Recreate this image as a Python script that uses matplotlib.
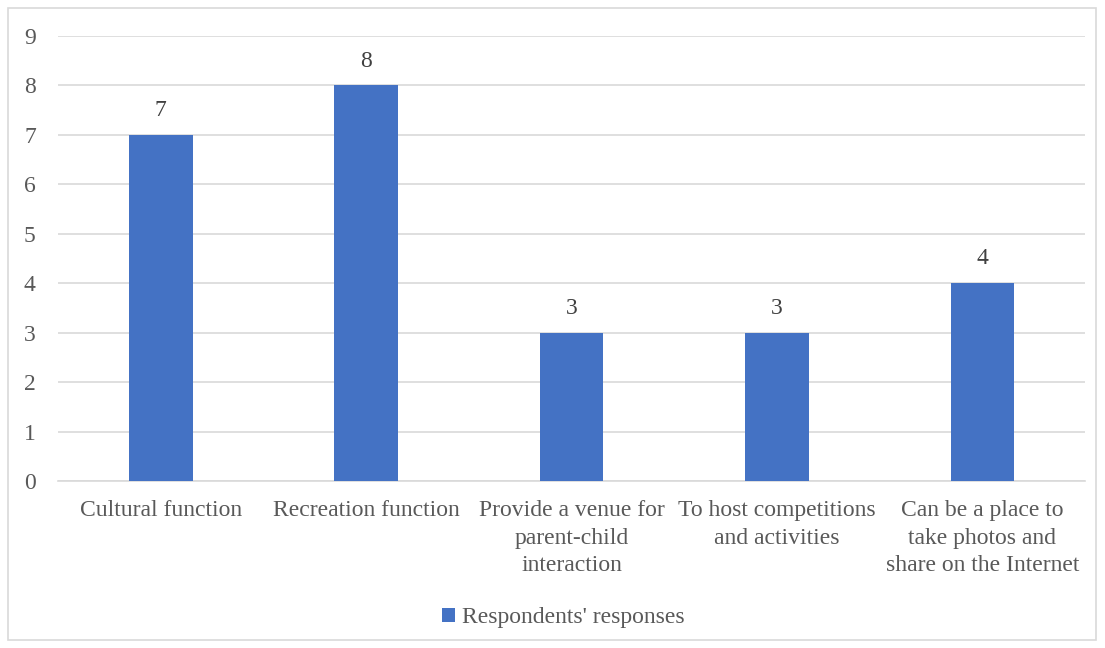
import matplotlib.pyplot as plt
from matplotlib.patches import Rectangle

categories = ["Cultural function", "Recreation function",
              "Provide a venue for\nparent-child\ninteraction",
              "To host competitions\nand activities",
              "Can be a place to\ntake photos and\nshare on the Internet"]
responses = [7, 8, 3, 3, 4]
series_name = "Respondents' responses"

plt.rcParams["font.family"] = ["Liberation Serif", "DejaVu Serif"]
text_color = "#595959"
bar_color = "#4472C4"
fs = 17

fig = plt.figure(figsize=(11.05, 6.48), dpi=100)
ax = fig.add_axes([0.0525, 0.2577, 0.9295, 0.6867])

x = range(len(categories))
ax.bar(x, responses, width=0.31, color=bar_color, label=series_name, zorder=3)
for xi, v in zip(x, responses):
    ax.text(xi, v + 0.28, str(v), ha="center", va="bottom", fontsize=fs, color="#404040")

ax.set_xlim(-0.5, len(categories) - 0.5)
ax.set_ylim(0, 9)
ax.set_yticks(range(0, 10))
ax.set_xticks(list(x))
ax.set_xticklabels(categories, fontsize=fs, color=text_color, linespacing=1.38)
ax.tick_params(axis="y", labelsize=fs, labelcolor=text_color, length=0, pad=16)
ax.tick_params(axis="x", length=0, pad=14)
ax.grid(axis="y", color="#D9D9D9", linewidth=1.2, zorder=0)
for s in ["top", "right", "left"]:
    ax.spines[s].set_visible(False)
ax.spines["bottom"].set_color("#D9D9D9")
ax.spines["bottom"].set_linewidth(1.2)

fig.legend(loc="center", bbox_to_anchor=(0.51, 0.047), frameon=False,
           fontsize=fs, labelcolor=text_color, handlelength=0.55, handleheight=0.55,
           handletextpad=0.3)

fig.patches.append(Rectangle((8 / 1105, 8 / 648), 1088 / 1105, 632 / 648,
                             transform=fig.transFigure, fill=False,
                             edgecolor="#D9D9D9", linewidth=1.2))

plt.savefig("out.png", dpi=100)
